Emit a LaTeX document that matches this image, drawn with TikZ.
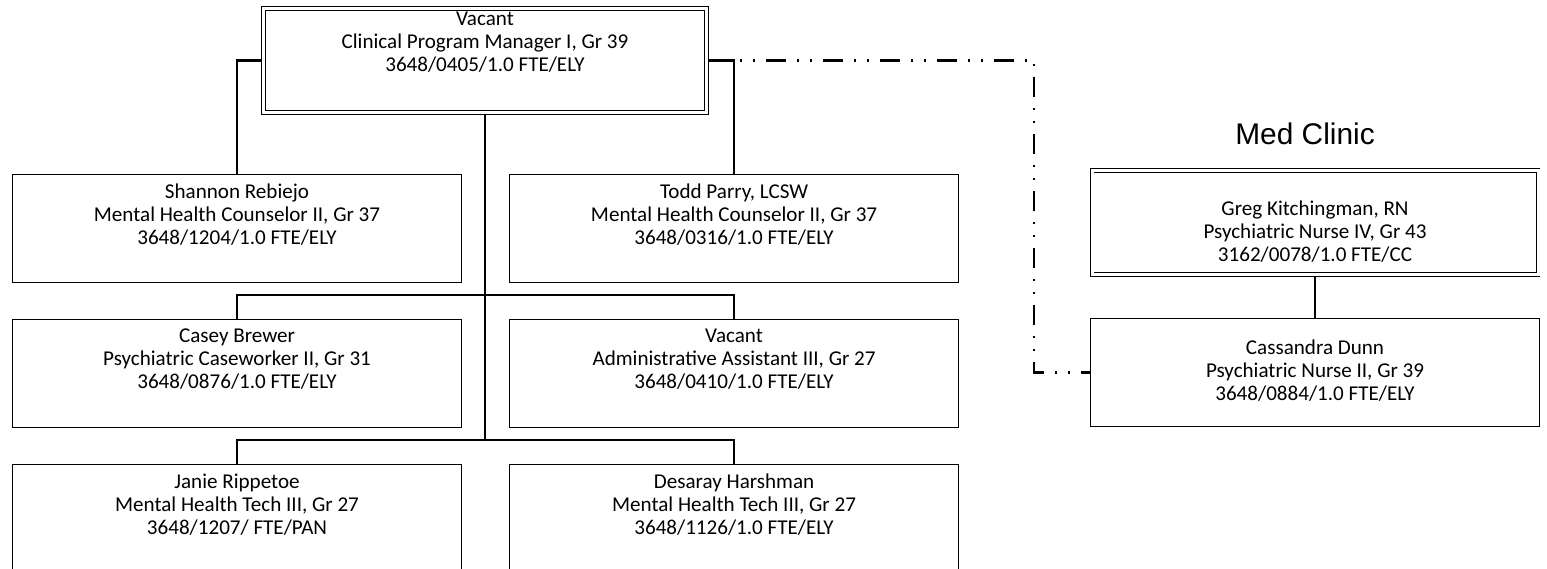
\documentclass[tikz,border=0pt]{standalone}
\usepackage{fontspec}
\setmainfont{Carlito}
\newfontfamily\titlefont{Liberation Sans}
\usetikzlibrary{positioning}

\begin{document}
\begin{tikzpicture}[
  every node/.style={font=\fontsize{12}{13.1}\selectfont},
  posbox/.style n args={3}{draw, line width=0.6pt, inner sep=0pt, anchor=north west,
    execute at begin node={\begin{minipage}[t][#2][t]{#1}\centering\vspace*{#3}},
    execute at end node={\end{minipage}}},
  staff/.style={posbox={8.98cm}{2.16cm}{0.18cm}},
  lowstaff/.style={posbox={8.98cm}{2.4cm}{0.18cm}},
  headbox/.style={double, double distance=0.06cm, line width=0.5pt, outer sep=0.05cm},
  link/.style={line width=1.2pt},
  mgmt/.style={line width=1.2pt, dash pattern=on 0.4cm off 0.22cm on 0.04cm off 0.22cm on 0.04cm off 0.22cm},
  title/.style={font=\titlefont\fontsize{17}{20}\selectfont, inner sep=0pt}
]
\useasboundingbox (0,0) rectangle (30.94,-11.38);

% Program
\node[posbox={8.86cm}{2.08cm}{0.07cm}, headbox] (cpm) at (5.22,-0.12)
  {Vacant\\Clinical Program Manager I, Gr 39\\3648/0405/1.0 FTE/ELY};
\node[staff] (shannon) at (0.24,-3.48)
  {Shannon Rebiejo\\Mental Health Counselor II, Gr 37\\3648/1204/1.0 FTE/ELY};
\node[staff, right=0.94cm of shannon] (todd)
  {Todd Parry, LCSW\\Mental Health Counselor II, Gr 37\\3648/0316/1.0 FTE/ELY};
\node[staff, below=0.72cm of shannon] (casey)
  {Casey Brewer\\Psychiatric Caseworker II, Gr 31\\3648/0876/1.0 FTE/ELY};
\node[staff, below=0.72cm of todd] (admin)
  {Vacant\\Administrative Assistant III, Gr 27\\3648/0410/1.0 FTE/ELY};
\node[lowstaff, anchor=north, below=0.72cm of casey] (janie)
  {Janie Rippetoe\\Mental Health Tech III, Gr 27\\3648/1207/ FTE/PAN};
\node[lowstaff, anchor=north, below=0.72cm of admin] (desaray)
  {Desaray Harshman\\Mental Health Tech III, Gr 27\\3648/1126/1.0 FTE/ELY};

% Med Clinic
\node[staff] (cassandra) at (21.8,-6.36)
  {\vspace*{0.25cm}Cassandra Dunn\\Psychiatric Nurse II, Gr 39\\3648/0884/1.0 FTE/ELY};
\node[posbox={8.92cm}{2.08cm}{0.6cm}, headbox, above=0.82cm of cassandra] (greg)
  {Greg Kitchingman, RN\\Psychiatric Nurse IV, Gr 43\\3162/0078/1.0 FTE/CC};
\node[title, above=0.46cm of greg, xshift=-0.2cm] (medclinic) {Med Clinic};

% Lines
\coordinate[below=0.24cm of shannon.south] (bus1);
\coordinate[below=0.24cm of casey.south] (bus2);
\coordinate[left=1.12cm of cassandra.west] (turn);

\draw[link] (cpm.west) -| (shannon.north);
\draw[link] (cpm.east) -| (todd.north);
\draw[link] (cpm.south) -- (cpm.south |- bus2);
\draw[link] (casey.north) |- (bus1) -| (admin.north);
\draw[link] (janie.north) |- (bus2) -| (desaray.north);
\draw[link] (greg.south) -- (cassandra.north);
\draw[mgmt] (cpm.east) -| (turn) -- (cassandra.west);

\end{tikzpicture}
\end{document}
